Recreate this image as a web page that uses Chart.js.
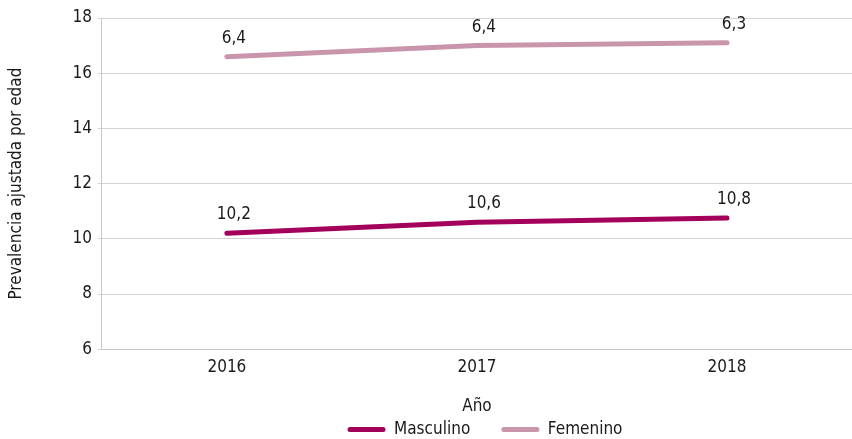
<!DOCTYPE html>
<html>
<head>
<meta charset="utf-8">
<script src="https://cdn.jsdelivr.net/npm/chart.js@4/dist/chart.umd.min.js"></script>
<style>
  html, body { margin: 0; padding: 0; background: #fff; }
  #wrap { width: 852px; height: 439px; }
</style>
</head>
<body>
<div id="wrap"><canvas id="prevalencia-chart"></canvas></div>
<script>
var years = ['2016', '2017', '2018'];
var masculino = [10.2, 10.6, 10.75];
var femenino = [16.6, 17.0, 17.1];
// etiquetas tal como aparecen en la figura original
var masculinoLabels = ['10,2', '10,6', '10,8'];
var femeninoLabels = ['6,4', '6,4', '6,3'];
var yTicks = [6, 8, 10, 12, 14, 16, 18];

var fontFamily = '"DejaVu Sans Condensed", "Open Sans", sans-serif';
var baseFont = { family: fontFamily, size: 17, weight: 'condensed' };

var pointLabels = {
  id: 'pointLabels',
  afterDatasetsDraw: function(chart) {
    var c = chart.ctx;
    c.save();
    c.font = 'condensed 17px ' + fontFamily;
    c.fillStyle = '#1a1a1a';
    c.textAlign = 'center';
    c.textBaseline = 'bottom';
    chart.data.datasets.forEach(function(ds, i) {
      chart.getDatasetMeta(i).data.forEach(function(pt, j) {
        c.fillText(ds.valueLabels[j], pt.x + 7, pt.y - 10);
      });
    });
    c.restore();
  }
};

// la leyenda original esta algo desplazada a la derecha
var legendShift = {
  id: 'legendShift',
  afterLayout: function(chart) {
    chart.legend.left += 56;
    chart.legend.right += 56;
  }
};

var ctx = document.getElementById('prevalencia-chart');
var chart = new Chart(ctx, {
  type: 'line',
  data: {
    labels: years,
    datasets: [
      {
        label: 'Masculino',
        data: masculino,
        valueLabels: masculinoLabels,
        borderColor: '#a3005c',
        backgroundColor: '#a3005c',
        borderWidth: 5,
        borderCapStyle: 'round',
        pointRadius: 0,
        tension: 0
      },
      {
        label: 'Femenino',
        data: femenino,
        valueLabels: femeninoLabels,
        borderColor: '#c995ab',
        backgroundColor: '#c995ab',
        borderWidth: 5,
        borderCapStyle: 'round',
        pointRadius: 0,
        tension: 0
      }
    ]
  },
  options: {
    responsive: true,
    maintainAspectRatio: false,
    animation: false,
    layout: { padding: { top: 18, right: 0, left: 6, bottom: -9 } },
    plugins: {
      tooltip: { enabled: false },
      legend: {
        position: 'bottom',
        labels: {
          font: baseFont,
          color: '#1a1a1a',
          boxWidth: 38,
          boxHeight: 5,
          useBorderRadius: true,
          borderRadius: 2.5,
          padding: 2,
          generateLabels: function(chart) {
            var items = Chart.defaults.plugins.legend.labels.generateLabels(chart);
            items.forEach(function(it, i) {
              it.lineWidth = 0;
              if (i === 0) it.text = it.text + '      ';
            });
            return items;
          }
        }
      }
    },
    scales: {
      x: {
        offset: true,
        grid: { display: false, drawTicks: false },
        border: { color: '#c8c8c8', width: 1 },
        ticks: { font: baseFont, color: '#1a1a1a', padding: 8 },
        title: {
          display: true,
          text: 'Año',
          font: baseFont,
          color: '#1a1a1a',
          padding: { top: 11, bottom: 2 }
        }
      },
      y: {
        min: 6,
        max: 18,
        afterBuildTicks: function(axis) {
          axis.ticks = yTicks.map(function(v) { return { value: v }; });
        },
        grid: { color: '#d4d4d4', lineWidth: 1, tickLength: 4 },
        border: { color: '#c8c8c8', width: 1 },
        ticks: { font: baseFont, color: '#1a1a1a', padding: 6 },
        title: {
          display: true,
          text: 'Prevalencia ajustada por edad',
          font: baseFont,
          color: '#1a1a1a',
          padding: { top: 0, bottom: 40 }
        }
      }
    }
  },
  plugins: [pointLabels, legendShift]
});
</script>
</body>
</html>
